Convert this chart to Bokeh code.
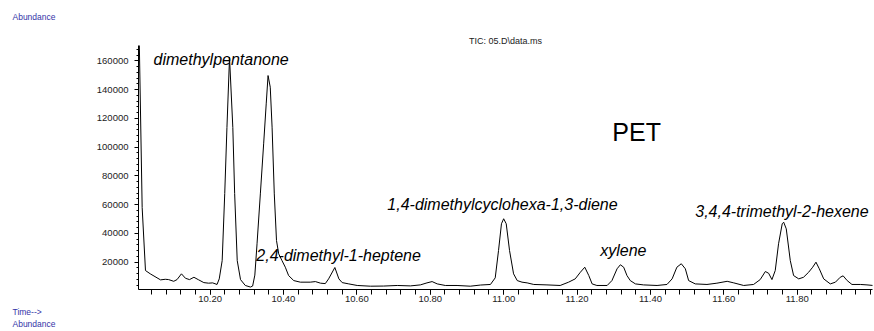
from bokeh.plotting import figure
from bokeh.models import Label, Range1d, FixedTicker, SingleIntervalTicker, NumeralTickFormatter, ColumnDataSource, Title
from bokeh.core.properties import value
from bokeh.embed import file_html
from bokeh.resources import INLINE
import numpy as np

# Chromatogram trace: retention time (min) and abundance
time_min = [10.007, 10.015, 10.024, 10.037, 10.065, 10.078, 10.087, 10.101, 10.110, 10.122,
            10.133, 10.144, 10.156, 10.169, 10.183, 10.196, 10.207, 10.219, 10.225, 10.233,
            10.240, 10.246, 10.253, 10.262, 10.267, 10.274, 10.283, 10.296, 10.310, 10.316,
            10.322, 10.328, 10.337, 10.346, 10.353, 10.358, 10.364, 10.369, 10.375, 10.381,
            10.387, 10.396, 10.405, 10.414, 10.428, 10.446, 10.473, 10.487, 10.501, 10.514,
            10.523, 10.540, 10.551, 10.560, 10.578, 10.601, 10.637, 10.673, 10.710, 10.746,
            10.773, 10.791, 10.805, 10.819, 10.841, 10.873, 10.909, 10.937, 10.964, 10.977,
            10.986, 10.994, 11.000, 11.007, 11.016, 11.027, 11.037, 11.050, 11.064, 11.082,
            11.118, 11.154, 11.177, 11.195, 11.209, 11.221, 11.232, 11.241, 11.254, 11.282,
            11.295, 11.309, 11.318, 11.327, 11.336, 11.345, 11.359, 11.381, 11.418, 11.445,
            11.459, 11.472, 11.484, 11.495, 11.504, 11.522, 11.554, 11.581, 11.609, 11.627,
            11.654, 11.681, 11.699, 11.713, 11.722, 11.731, 11.740, 11.749, 11.759, 11.763,
            11.770, 11.781, 11.790, 11.804, 11.817, 11.831, 11.842, 11.851, 11.860, 11.872,
            11.890, 11.904, 11.917, 11.925, 11.936, 11.949, 11.972, 11.990, 12.007]
abundance = [175000, 58000, 14200, 11900, 7700, 8100, 7900, 6700, 7900, 11900,
             8800, 7900, 9500, 7700, 5800, 5400, 5600, 4500, 8400, 21100,
             67800, 113700, 162400, 113700, 67800, 21100, 7900, 3800, 2700, 3400,
             11000, 32800, 67500, 102300, 130100, 149800, 141700, 113900, 67500, 35100,
             25800, 21100, 16500, 10700, 7200, 6100, 6100, 6500, 5400, 5100,
             8400, 16300, 8400, 5800, 4900, 3800, 3300, 3400, 3800, 3500,
             4200, 5600, 6500, 4900, 3800, 3800, 3300, 4100, 4500, 9100,
             28100, 46700, 50200, 46700, 28100, 11900, 7200, 6100, 5600, 4500,
             4200, 3800, 6100, 8400, 13000, 16500, 10700, 4900, 3800, 3800,
             7200, 15400, 18200, 16500, 10700, 7200, 4900, 4200, 3800, 4500,
             8400, 16500, 18900, 15400, 7200, 4900, 4500, 5400, 6700, 5600,
             3800, 4500, 7900, 13500, 12300, 7900, 14200, 32800, 46700, 47800,
             43200, 21100, 10700, 8400, 9500, 13000, 16500, 20000, 15400, 8400,
             4900, 6100, 9500, 10500, 7200, 4500, 4500, 4200, 3800]

# Peak annotations
peak_names = ["dimethylpentanone", "2,4-dimethyl-1-heptene", "1,4-dimethylcyclohexa-1,3-diene",
              "xylene", "3,4,4-trimethyl-2-hexene"]
peak_label_t = [10.046, 10.326, 10.683, 11.263, 11.522]
peak_label_v = [161000, 24600, 60100, 28100, 55200]

x_major_ticks = [10.2, 10.4, 10.6, 10.8, 11.0, 11.2, 11.4, 11.6, 11.8]

FONT = "Liberation Sans"
BLUE = "#3434a8"

p = figure(width=874, height=331, output_backend="svg", toolbar_location=None,
           x_range=Range1d(10.005, 12.005), y_range=Range1d(1000, 170700),
           min_border_left=138, min_border_right=2, min_border_top=45, min_border_bottom=42)
p.outline_line_color = None
p.xgrid.visible = False
p.ygrid.visible = False
p.background_fill_color = "white"
p.border_fill_color = "white"

src = ColumnDataSource(dict(t=time_min, v=abundance))
p.line("t", "v", source=src, line_color="black", line_width=1)

lab_src = ColumnDataSource(dict(t=peak_label_t, v=peak_label_v, name=peak_names))
p.text("t", "v", text="name", source=lab_src, text_font=value(FONT), text_font_style="italic",
       text_font_size="16px", text_color="black", text_align="left", text_baseline="middle")

p.add_layout(Label(x=11.296, y=110200, text="PET", text_font=FONT, text_font_size="25px",
                   text_color="black", text_align="left", text_baseline="middle"))

# Axes
xa = p.xaxis[0]
xa.ticker = FixedTicker(ticks=x_major_ticks, minor_ticks=list(np.round(np.arange(10.04, 12.01, 0.04), 2)))
xa.formatter = NumeralTickFormatter(format="0.00")
xa.major_tick_out = 5
xa.major_tick_in = 0
xa.minor_tick_out = 5
xa.minor_tick_in = 0
xa.major_label_standoff = 1
xa.major_label_text_font = FONT
xa.major_label_text_font_size = "9.5px"
xa.major_label_text_color = "#222222"
xa.axis_line_color = "black"

ya = p.yaxis[0]
ya.ticker = SingleIntervalTicker(interval=20000, num_minor_ticks=5)
ya.formatter = NumeralTickFormatter(format="0")
ya.major_tick_out = 4
ya.major_tick_in = 0
ya.minor_tick_out = 2
ya.minor_tick_in = 0
ya.major_label_standoff = 6
ya.major_label_text_font = FONT
ya.major_label_text_font_size = "9.5px"
ya.major_label_text_color = "#222222"
ya.axis_line_color = "black"

# Texts around the frame
p.title.text = "Abundance"
p.title.align = "left"
p.title.vertical_align = "top"
p.title.offset = -126
p.title.standoff = 19
p.title.text_font = FONT
p.title.text_font_size = "8.5px"
p.title.text_font_style = "normal"
p.title.text_color = BLUE

p.add_layout(Title(text="TIC: 05.D\\data.ms", align="center", standoff=0,
                   text_font=FONT, text_font_size="9px", text_font_style="normal",
                   text_color="#222222"), "above")
p.add_layout(Title(text="Time-->", align="left", offset=-126, standoff=0,
                   text_font=FONT, text_font_size="8.5px", text_font_style="normal",
                   text_color=BLUE), "below")
p.add_layout(Title(text="Abundance", align="left", offset=-126, standoff=0,
                   text_font=FONT, text_font_size="8.5px", text_font_style="normal",
                   text_color=BLUE), "below")

open("out.html", "w").write(file_html(p, INLINE))
